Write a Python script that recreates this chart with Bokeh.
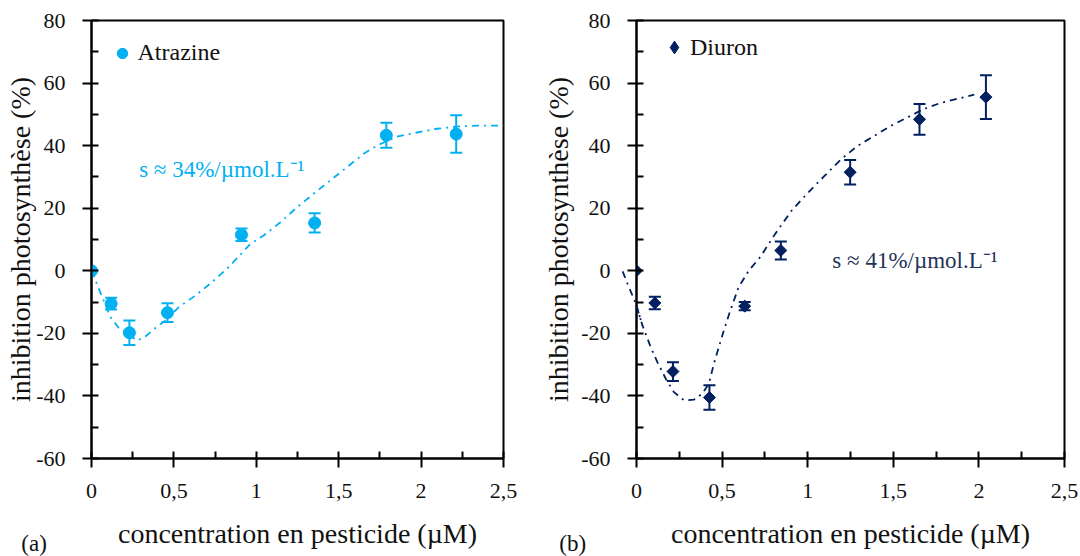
from bokeh.plotting import figure
from bokeh.layouts import row
from bokeh.models import (Range1d, FixedTicker, ColumnDataSource, Whisker, TeeHead,
                          Legend, LegendItem, Label)
from bokeh.core.properties import value
from bokeh.embed import file_html
from bokeh.resources import INLINE
import math

# ---------------- data ----------------
x_ticks = [0, 0.5, 1, 1.5, 2, 2.5]
x_minor = [0.25, 0.75, 1.25, 1.75, 2.25]
x_tick_labels = {0.5: "0,5", 1.5: "1,5", 2.5: "2,5"}
y_ticks = [-60, -40, -20, 0, 20, 40, 60, 80]
y_minor = [-50, -30, -10, 10, 30, 50, 70]
y_tick_labels = {-60: "-60", -40: "-40", -20: "-20"}

conc_atrazine = [0, 0.119, 0.230, 0.461, 0.910, 1.354, 1.789, 2.213]
inhib_atrazine = [0, -10.5, -19.8, -13.4, 11.5, 15.3, 43.3, 43.7]
err_atrazine = [0, 1.9, 3.9, 3.0, 2.0, 3.1, 4.0, 6.0]

fit_x_atrazine = [0, 0.044, 0.115, 0.166, 0.277, 0.327, 0.388, 0.449, 0.53, 0.631,
                  0.732, 0.833, 0.964, 1.045, 1.146, 1.247, 1.348, 1.449, 1.55,
                  1.651, 1.732, 1.854, 1.975, 2.096, 2.218, 2.339, 2.5]
fit_y_atrazine = [0, -5.7, -14.8, -18.3, -22.3, -21, -18.3, -15.9, -11.6, -7.9,
                  -3.6, 1.2, 8.6, 11.3, 15.5, 20.3, 24.6, 28.9, 33.1,
                  37.4, 40, 42.9, 44.2, 45.4, 46.1, 46.4, 46.4]

conc_diuron = [0, 0.107, 0.213, 0.426, 0.632, 0.843, 1.248, 1.653, 2.041]
inhib_diuron = [0, -10.3, -32.2, -40.5, -11.3, 6.5, 31.5, 48.4, 55.5]
err_diuron = [0, 2.0, 3.0, 3.9, 1.3, 2.9, 3.9, 4.9, 7.0]

fit_x_diuron = [-0.081, -0.052, -0.004, 0.035, 0.083, 0.122, 0.171, 0.219, 0.277,
                0.335, 0.384, 0.423, 0.452, 0.481, 0.51, 0.548, 0.597, 0.655,
                0.723, 0.81, 0.907, 1.004, 1.101, 1.198, 1.294, 1.391, 1.488,
                1.585, 1.682, 1.779, 1.876, 1.973]
fit_y_diuron = [-0.2, -4.2, -10.5, -17.5, -24.4, -29.2, -34.5, -38.8, -41.4,
                -41.2, -39.3, -36.1, -29.7, -24.4, -19.1, -12.7, -5.2, 0,
                4.4, 11.8, 19.3, 25.1, 30.5, 35.8, 40, 43.2, 46.4,
                49.1, 51.8, 53.7, 55, 56.3]

names = ["Atrazine", "Diuron"]
slope_texts = ["s \u2248 34%/\u00b5mol.L\u207b\u00b9", "s \u2248 41%/\u00b5mol.L\u207b\u00b9"]
panel_tags = ["(a)", "(b)"]
x_title = "concentration en pesticide (\u00b5M)"
y_title = "inhibition photosynth\u00e8se (%)"

FONT = "Liberation Serif"
CYAN = "#00B0F0"
NAVY = "#002060"
TXT = "#111111"
DASH = "7 5 2 5"


def make_panel(conc, inhib, err, fx, fy, color, name, rotated, legend_box,
               legend_standoff, legend_loc, slope, slope_xy, slope_color,
               tag, tag_xy, b_left, b_right, ylabel_standoff):
    p = figure(width=540, height=556, x_range=Range1d(0, 2.5), y_range=Range1d(-60, 80),
               output_backend="svg", toolbar_location=None,
               min_border_left=b_left, min_border_right=b_right,
               min_border_top=20, min_border_bottom=98)
    p.xgrid.visible = False
    p.ygrid.visible = False
    p.outline_line_color = "black"
    p.outline_line_width = 2
    p.background_fill_color = "white"
    p.border_fill_color = "white"

    # axes
    p.xaxis.ticker = FixedTicker(ticks=x_ticks, minor_ticks=x_minor)
    p.xaxis.major_label_overrides = x_tick_labels
    p.yaxis.ticker = FixedTicker(ticks=y_ticks, minor_ticks=y_minor)
    p.yaxis.major_label_overrides = y_tick_labels
    for ax in (p.xaxis[0], p.yaxis[0]):
        ax.axis_line_color = "black"
        ax.axis_line_width = 2
        ax.major_tick_line_color = "black"
        ax.major_tick_line_width = 2
        ax.minor_tick_line_color = "black"
        ax.minor_tick_line_width = 2
        ax.major_tick_in = 7
        ax.major_tick_out = 9
        ax.minor_tick_in = 7
        ax.minor_tick_out = 0
        ax.major_label_text_font = FONT
        ax.major_label_text_font_size = "22px"
        ax.major_label_text_color = TXT
        ax.axis_label_text_font = FONT
        ax.axis_label_text_font_size = "28px"
        ax.axis_label_text_font_style = "normal"
        ax.axis_label_text_color = TXT
    p.xaxis.major_label_standoff = 16
    p.xaxis.axis_label_standoff = 17
    p.xaxis.axis_label = x_title
    p.yaxis.major_label_standoff = 17
    p.yaxis.axis_label_standoff = ylabel_standoff
    p.yaxis.axis_label = y_title

    # fitted curve: the part left of x=0 is drawn unclipped (it pokes past the axis)
    k = next(i for i, v in enumerate(fx) if v > 0)
    if k > 1:
        p.line(fx[:k + 1], fy[:k + 1], line_color=color, line_width=1.8,
               line_dash=DASH, level="annotation")
        p.line(fx[k - 1:], fy[k - 1:], line_color=color, line_width=1.8, line_dash=DASH)
    else:
        p.line(fx, fy, line_color=color, line_width=1.8, line_dash=DASH)

    # error bars (only where an error exists)
    ex = [c for c, e in zip(conc, err) if e > 0]
    eu = [v + e for v, e in zip(inhib, err) if e > 0]
    el = [v - e for v, e in zip(inhib, err) if e > 0]
    src = ColumnDataSource(dict(x=ex, upper=eu, lower=el))
    w = Whisker(source=src, base="x", upper="upper", lower="lower",
                line_color=color, line_width=2,
                upper_head=TeeHead(size=12, line_color=color, line_width=2),
                lower_head=TeeHead(size=12, line_color=color, line_width=2))
    p.add_layout(w)

    if rotated:
        # diamond glyph (gives the legend swatch), covered by the rotated squares
        r_leg = p.scatter(conc, inhib, marker="diamond", size=10,
                          fill_color=color, line_color=color)
        p.scatter(conc, inhib, marker="square", size=8.5, angle=math.pi / 4,
                  fill_color=color, line_color=color)
    else:
        r_leg = p.scatter(conc, inhib, marker="circle", size=12,
                          fill_color=color, line_color=color)

    legend = Legend(items=[LegendItem(label=name, renderers=[r_leg])],
                    location=legend_loc, padding=0, margin=0, spacing=0,
                    border_line_color=None, background_fill_alpha=0,
                    glyph_width=legend_box, glyph_height=legend_box,
                    label_standoff=legend_standoff,
                    label_text_font=FONT, label_text_font_size="24px",
                    label_text_color=TXT)
    p.add_layout(legend)

    p.add_layout(Label(x=slope_xy[0], y=slope_xy[1], text=slope,
                       text_font=FONT, text_font_size="23px", text_color=slope_color,
                       text_baseline="alphabetic"))
    # panel tag outside the frame: text glyph at annotation level (not frame-clipped)
    p.text(x=[tag_xy[0]], y=[tag_xy[1]], text=[tag], text_font=value(FONT),
           text_font_size=value("23px"), text_color=TXT, text_baseline="alphabetic",
           level="annotation")
    return p


p1 = make_panel(conc_atrazine, inhib_atrazine, err_atrazine, fit_x_atrazine, fit_y_atrazine,
                CYAN, names[0], False, 26, 3, (17.5, 392),
                slope_texts[0], (0.289, 32.4), CYAN,
                panel_tags[0], (-0.426, -87.3), 91, 37, -3)
p2 = make_panel(conc_diuron, inhib_diuron, err_diuron, fit_x_diuron, fit_y_diuron,
                NAVY, names[1], True, 32, 0, (22, 395),
                slope_texts[1], (1.144, 3.3), "#1F3357",
                panel_tags[1], (-0.451, -87.3), 94, 16, 4)

layout = row(p1, p2)
open("out.html", "w").write(file_html(layout, INLINE))
